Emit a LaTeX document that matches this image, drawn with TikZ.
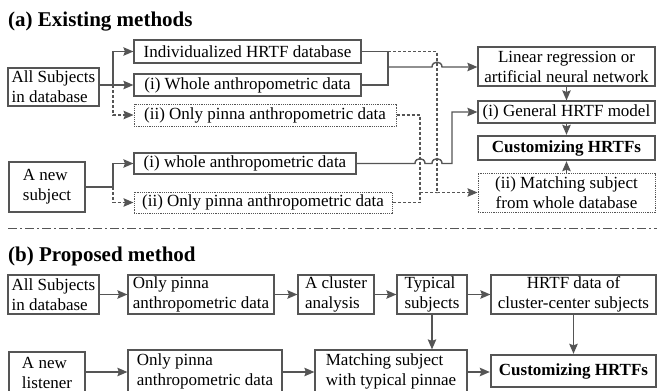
\documentclass[tikz,border=0pt]{standalone}
\usepackage{fontspec}
\setmainfont{Liberation Serif}
\usetikzlibrary{arrows.meta}
\definecolor{lc}{HTML}{555555}
\newcommand\fs{\fontsize{17}{20}\selectfont}
\newcommand\bx[7][]{\node[box,#1,minimum width={#5-#3},minimum height={#6-#4}] (#2) at ({(#3+#5)/2},{(#4+#6)/2}) {#7};}
\tikzset{
  box/.style={draw=lc,line width=1.2pt,inner sep=0pt,font=\fs,align=center,text=black},
  dotbox/.style={densely dotted,line width=1pt},
  thickbox/.style={line width=2.4pt,font=\fs\bfseries},
  conn/.style={draw=lc,line width=1.4pt},
  arr/.style={-{Stealth[length=10pt,width=8.5pt,inset=1.5pt]}},
  dsh/.style={dash pattern=on 3pt off 2pt,line width=1.2pt},
  ttl/.style={font=\fontsize{21}{24}\selectfont\bfseries,anchor=base west,inner sep=0pt}
}
\begin{document}
\begin{tikzpicture}[x=1pt,y=-1pt]
\useasboundingbox (0,0) rectangle (657,391);
\clip (0,0) rectangle (657,391);
% titles
\node[ttl] (ta) at (8,26) {(a) Existing methods};
\node[ttl] (tb) at (8,261) {(b) Proposed method};
% separator
\draw[lc,line width=1pt,dash pattern=on 9pt off 3pt on 2pt off 3pt] (8,228) -- (657,228);
% ---- part (a)
\bx[align=left]{allA}{8}{68}{99}{106}{All Subjects\\in database}
\bx{indiv}{134}{40}{361}{63}{Individualized HRTF database}
\bx{whole}{134}{74}{361}{96}{(i) Whole anthropometric data}
\bx[dotbox]{pinA}{134}{104}{396}{126}{(ii) Only pinna anthropometric data}
\bx[align=left]{newS}{9}{162}{85}{212}{A new\\subject}
\bx{wholeB}{134}{153}{356}{174}{(i) whole anthropometric data}
\bx[dotbox]{pinB}{134}{192}{392}{213}{(ii) Only pinna anthropometric data}
\bx{linreg}{478}{47}{655}{86}{Linear regression or\\artificial neural network}
\bx{general}{478}{101}{655}{123}{(i) General HRTF model}
\bx[thickbox]{custA}{478}{136}{655}{160}{Customizing HRTFs}
\bx[dotbox]{matchA}{478}{173}{655}{212}{(ii) Matching subject\\from whole database}
% connectors (a)
\draw[conn,arr] (allA.east |- whole.west) -- (whole.west);
\draw[conn,arr] (113,85) -- (113,51.5) -- (indiv.west);
\draw[conn,dsh,arr] (113,85) -- (113,115) -- (pinA.west);
\draw[conn] (indiv.east) -- (388,51.5) -- (388,85) -- (whole.east);
\draw[conn,arr] (388,67) -- (432,67) .. controls (432,60.5) and (442,60.5) .. (442,67) -- (linreg.west |- 0,67);
\draw[conn,dsh,arr] (388,51.5) -- (437,51.5) -- (437,192.5) -- (matchA.west);
\draw[conn,dsh] (pinA.east) -- (420,115) -- (420,202.5) -- (pinB.east);
\draw[conn,dsh] (420,192.5) -- (437,192.5);
\draw[conn] (newS.east) -- (113,187);
\draw[conn,arr] (113,187) -- (113,163.5) -- (wholeB.west);
\draw[conn,dsh,arr] (113,187) -- (113,202.5) -- (pinB.west);
\draw[conn,arr] (wholeB.east) -- (415,163.5) .. controls (415,157) and (425,157) .. (425,163.5) -- (432,163.5) .. controls (432,157) and (442,157) .. (442,163.5) -- (452,163.5) -- (452,112) -- (general.west);
\draw[conn,arr] (linreg.south) -- (general.north);
\draw[conn,arr] (general.south) -- (custA.north);
\draw[conn,arr] (matchA.north) -- (custA.south);
% ---- part (b)
\bx[align=left]{allB}{8}{275}{99}{314}{All Subjects\\in database}
\bx[align=left]{pinC}{128}{275}{274}{314}{Only pinna\\anthropometric data}
\bx[align=left]{clus}{298}{275}{374}{314}{A cluster\\analysis}
\bx[align=left]{typ}{397}{275}{467}{314}{Typical\\subjects}
\bx{hrtf}{491}{275}{656}{314}{HRTF data of\\cluster-center subjects}
\bx[align=left]{newL}{9}{352}{85}{393}{A new\\listener}
\bx[align=left]{pinD}{128}{350}{282}{392}{Only pinna\\anthropometric data}
\bx[align=left]{matchB}{315}{350}{467}{392}{Matching subject\\with typical pinnae}
\bx[thickbox]{custB}{491}{355}{656}{387}{Customizing HRTFs}
\draw[conn,arr] (allB) -- (pinC);
\draw[conn,arr] (pinC) -- (clus);
\draw[conn,arr] (clus) -- (typ);
\draw[conn,arr] (typ) -- (hrtf);
\draw[conn,arr] (typ.south) -- (matchB.north -| typ.south);
\draw[conn,arr] (hrtf.south) -- (custB.north -| hrtf.south);
\draw[conn,arr] (newL.east |- 0,372) -- (pinD.west |- 0,372);
\draw[conn,arr] (pinD.east |- 0,372) -- (matchB.west |- 0,372);
\draw[conn,arr] (matchB.east |- 0,372) -- (custB.west |- 0,372);
\end{tikzpicture}
\end{document}
